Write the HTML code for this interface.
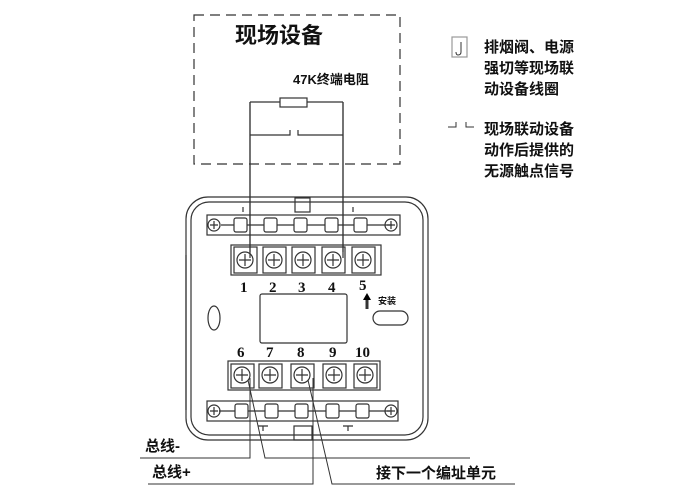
<!DOCTYPE html><html><head><meta charset="utf-8"><style>
body{margin:0;background:#fff;width:700px;height:495px;overflow:hidden}
text{font-family:"Liberation Serif","Noto Serif CJK SC",serif;fill:#111}
.c{font-family:"Liberation Sans","Noto Sans CJK SC",sans-serif;font-weight:bold}
</style></head><body>
<svg width="700" height="495" viewBox="0 0 700 495" xmlns="http://www.w3.org/2000/svg" fill="none" stroke="#333" stroke-width="1.2">
<rect x="194" y="15" width="206" height="149" stroke-dasharray="10,6"/>
<text x="235" y="43" font-size="22" class="c" stroke="none" font-weight="normal">现场设备</text>
<text x="293" y="84" font-size="13" class="c" stroke="none">47K终端电阻</text>
<rect x="280" y="98" width="27" height="9"/>
<path d="M250 102H280M307 102H343M250 102V252M343 102V252M250 135H290V130M298 130V135H343"/>
<rect x="452" y="37" width="15" height="20" stroke="#999"/>
<path d="M461 42V52Q461 55 458 55Q456 55 456 52" stroke-width="1"/>
<g class="c" font-size="15" stroke="none"><text x="484" y="52" class="c">排烟阀、电源</text><text x="484" y="73" class="c">强切等现场联</text><text x="484" y="94" class="c">动设备线圈</text>
<text x="484" y="134" class="c">现场联动设备</text><text x="484" y="155" class="c">动作后提供的</text><text x="484" y="176" class="c">无源触点信号</text></g>
<path d="M448 127H456V122M466 122V127H474" stroke-width="1"/>
<rect x="186" y="197" width="242" height="243" rx="22"/>
<rect x="191" y="202" width="232" height="233" rx="18"/>
<path d="M186 255V410"/>
<rect x="295" y="198" width="15" height="14"/><rect x="294" y="426" width="18" height="14"/>
<path d="M243 207V212M353 207V212M258 426H268M263 426V431M343 426H353M348 426V431"/>
<rect x="207" y="215" width="193" height="20"/>
<path d="M221 225H392"/>
<g fill="#fff"><rect x="234" y="218" width="13" height="14" rx="2"/><rect x="264" y="218" width="13" height="14" rx="2"/><rect x="294" y="218" width="13" height="14" rx="2"/><rect x="325" y="218" width="13" height="14" rx="2"/><rect x="354" y="218" width="13" height="14" rx="2"/></g>
<circle cx="214" cy="225" r="6"/><circle cx="391" cy="225" r="6"/>
<path d="M210 225H218M214 221V229M387 225H395M391 221V229"/>
<rect x="231" y="245" width="150" height="30"/>
<rect x="234" y="247" width="23" height="26"/><rect x="263" y="247" width="23" height="26"/><rect x="292" y="247" width="23" height="26"/><rect x="322" y="247" width="23" height="26"/><rect x="352" y="247" width="23" height="26"/>
<g fill="#fff"><circle cx="245" cy="260" r="8"/><circle cx="274" cy="260" r="8"/><circle cx="303" cy="260" r="8"/><circle cx="333" cy="260" r="8"/><circle cx="363" cy="260" r="8"/></g>
<path d="M239 260H251M245 254V266M268 260H280M274 254V266M297 260H309M303 254V266M327 260H339M333 254V266M357 260H369M363 254V266"/>
<path d="M250 102V258M343 102V258"/>
<g font-size="15" font-weight="bold" stroke="none"><text x="240" y="292">1</text><text x="269" y="292">2</text><text x="298" y="292">3</text><text x="328" y="292">4</text><text x="359" y="290">5</text>
<text x="237" y="357">6</text><text x="266" y="357">7</text><text x="297" y="357">8</text><text x="329" y="357">9</text><text x="355" y="357">10</text></g>
<rect x="260" y="294" width="87" height="49" rx="2"/>
<ellipse cx="214" cy="318" rx="6" ry="12"/>
<rect x="373" y="311" width="35" height="14" rx="7"/>
<path d="M367 309V299" stroke-width="3"/>
<path d="M363 300L367 293L371 300Z" fill="#000" stroke="none"/>
<text x="378" y="304" font-size="9" class="c" stroke="none">安装</text>
<rect x="228" y="361" width="152" height="29"/>
<rect x="231" y="364" width="23" height="24"/><rect x="259" y="364" width="23" height="24"/><rect x="291" y="364" width="23" height="24"/><rect x="323" y="364" width="23" height="24"/><rect x="354" y="364" width="23" height="24"/>
<g fill="#fff"><circle cx="242" cy="375" r="8"/><circle cx="270" cy="375" r="8"/><circle cx="302" cy="375" r="8"/><circle cx="334" cy="375" r="8"/><circle cx="365" cy="375" r="8"/></g>
<path d="M236 375H248M242 369V381M264 375H276M270 369V381M296 375H308M302 369V381M328 375H340M334 369V381M359 375H371M365 369V381"/>
<rect x="207" y="401" width="191" height="20"/>
<path d="M219 411H390"/>
<g fill="#fff"><rect x="235" y="404" width="13" height="14" rx="2"/><rect x="265" y="404" width="13" height="14" rx="2"/><rect x="295" y="404" width="13" height="14" rx="2"/><rect x="326" y="404" width="13" height="14" rx="2"/><rect x="356" y="404" width="13" height="14" rx="2"/></g>
<circle cx="214" cy="411" r="6"/><circle cx="391" cy="411" r="6"/>
<path d="M210 411H218M214 407V415M387 411H395M391 407V415"/>
<path d="M140 458H250V378M148 484H313V378M248 380L265 458H470M308 380L332 484H515" stroke-width="1"/>
<g font-size="15" stroke="none"><text x="145" y="451" class="c">总线-</text><text x="152" y="477" class="c">总线+</text><text x="376" y="478" class="c">接下一个编址单元</text></g>
</svg>
</body></html>
